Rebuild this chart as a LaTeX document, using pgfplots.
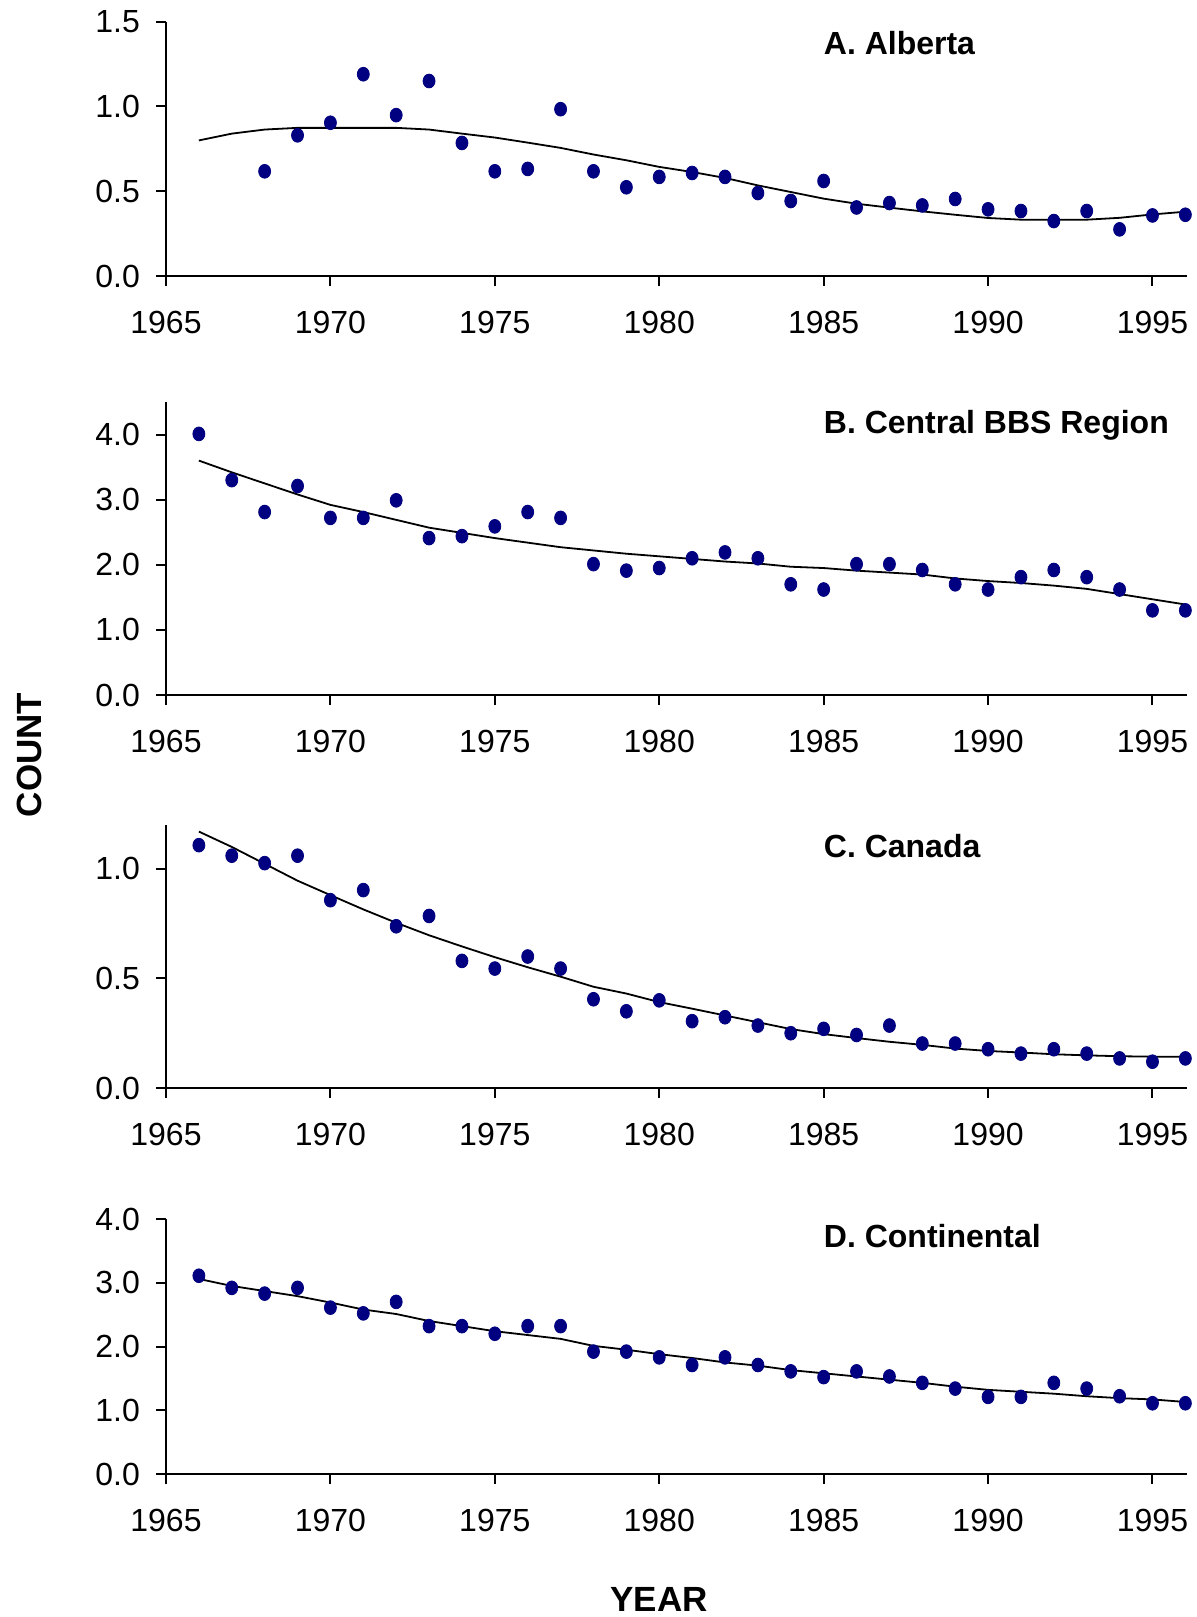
\documentclass[border=0pt]{standalone}
\usepackage{pgfplots}
\pgfplotsset{compat=1.18}
\usepackage{fontspec}
\setmainfont{Liberation Sans}
\definecolor{dotblue}{RGB}{0,0,128}

\pgfplotsset{
  panel/.style={
    scale only axis,
    width=510.5pt,
    xmin=1965, xmax=1996.05,
    ymin=0,
    axis x line*=bottom, axis y line*=left,
    axis line style={line width=1pt},
    tick align=outside,
    major tick length=5pt,
    tick style={line width=1pt, black},
    xtick={1965,1970,...,1995},
    clip=false,
    anchor=north west,
    /pgf/number format/assume math mode=true,
    xticklabel style={yshift=-9pt, /pgf/number format/1000 sep={}},
    yticklabel style={xshift=-4.5pt, /pgf/number format/.cd, fixed, fixed zerofill, precision=1},
    ticklabel style={font=\fontsize{16}{19}\selectfont},
  },
  dots/.style={only marks, mark=*, mark size=3pt, color=dotblue, mark options={yscale=1.15}},
  trend/.style={black, line width=0.9pt, mark=none},
}
\tikzset{ttl/.style={anchor=west, inner sep=0pt, font=\fontsize{16}{19}\selectfont\bfseries}}

\begin{document}
\begin{tikzpicture}
\path[use as bounding box] (0,0) rectangle (598.5pt,-808.5pt);

% A. Alberta
\begin{axis}[panel, at={(83pt,-10.8pt)}, height=127.3pt, ymax=1.5, ytick={0,0.5,1.0,1.5}]
\addplot[dots] coordinates {
 (1968,0.618) (1969,0.83) (1970,0.904) (1971,1.19) (1972,0.949) (1973,1.15)
 (1974,0.785) (1975,0.618) (1976,0.632) (1977,0.984) (1978,0.618) (1979,0.524)
 (1980,0.585) (1981,0.608) (1982,0.585) (1983,0.49) (1984,0.443) (1985,0.561)
 (1986,0.405) (1987,0.431) (1988,0.417) (1989,0.455) (1990,0.394) (1991,0.384)
 (1992,0.325) (1993,0.384) (1994,0.276) (1995,0.358) (1996,0.362)
};
\addplot[trend] coordinates {
 (1966,0.80) (1967,0.84) (1968,0.864) (1969,0.874) (1970,0.874) (1971,0.874)
 (1972,0.874) (1973,0.864) (1974,0.84) (1975,0.817) (1976,0.787) (1977,0.756)
 (1978,0.717) (1979,0.683) (1980,0.644) (1981,0.614) (1982,0.579) (1983,0.535)
 (1984,0.496) (1985,0.457) (1986,0.427) (1987,0.404) (1988,0.382) (1989,0.362)
 (1990,0.343) (1991,0.333) (1992,0.333) (1993,0.333) (1994,0.344) (1995,0.364)
 (1996,0.38)
};
\node[ttl] at (rel axis cs:0.644,0.916) {A. Alberta};
\end{axis}

% B. Central BBS Region
\begin{axis}[panel, at={(83pt,-201pt)}, height=146.5pt, ymax=4.5, ytick={0,1,2,3,4}]
\addplot[dots] coordinates {
 (1966,4.01) (1967,3.30) (1968,2.81) (1969,3.21) (1970,2.72) (1971,2.72)
 (1972,2.99) (1973,2.41) (1974,2.44) (1975,2.59) (1976,2.81) (1977,2.72)
 (1978,2.01) (1979,1.91) (1980,1.95) (1981,2.10) (1982,2.19) (1983,2.10)
 (1984,1.70) (1985,1.62) (1986,2.01) (1987,2.01) (1988,1.92) (1989,1.70)
 (1990,1.62) (1991,1.81) (1992,1.92) (1993,1.81) (1994,1.62) (1995,1.30)
 (1996,1.30)
};
\addplot[trend] coordinates {
 (1966,3.60) (1967,3.42) (1968,3.25) (1969,3.08) (1970,2.92) (1971,2.81)
 (1972,2.69) (1973,2.57) (1974,2.49) (1975,2.41) (1976,2.34) (1977,2.27)
 (1978,2.22) (1979,2.17) (1980,2.13) (1981,2.09) (1982,2.05) (1983,2.02)
 (1984,1.97) (1985,1.95) (1986,1.91) (1987,1.88) (1988,1.85) (1989,1.79)
 (1990,1.75) (1991,1.72) (1992,1.68) (1993,1.63) (1994,1.55) (1995,1.47)
 (1996,1.39)
};
\node[ttl] at (rel axis cs:0.644,0.92) {B. Central BBS Region};
\end{axis}

% C. Canada
\begin{axis}[panel, at={(83pt,-412.5pt)}, height=131.5pt, ymax=1.2, ytick={0,0.5,1.0}]
\addplot[dots] coordinates {
 (1966,1.108) (1967,1.06) (1968,1.026) (1969,1.06) (1970,0.857) (1971,0.903)
 (1972,0.738) (1973,0.785) (1974,0.58) (1975,0.545) (1976,0.60) (1977,0.545)
 (1978,0.405) (1979,0.35) (1980,0.40) (1981,0.305) (1982,0.323) (1983,0.285)
 (1984,0.25) (1985,0.27) (1986,0.242) (1987,0.285) (1988,0.203) (1989,0.203)
 (1990,0.177) (1991,0.157) (1992,0.177) (1993,0.157) (1994,0.135) (1995,0.12)
 (1996,0.135)
};
\addplot[trend] coordinates {
 (1966,1.17) (1967,1.10) (1968,1.023) (1969,0.946) (1970,0.88) (1971,0.815)
 (1972,0.754) (1973,0.697) (1974,0.646) (1975,0.597) (1976,0.551) (1977,0.508)
 (1978,0.462) (1979,0.431) (1980,0.392) (1981,0.362) (1982,0.331) (1983,0.30)
 (1984,0.269) (1985,0.246) (1986,0.228) (1987,0.211) (1988,0.197) (1989,0.18)
 (1990,0.169) (1991,0.162) (1992,0.154) (1993,0.149) (1994,0.145) (1995,0.143)
 (1996,0.143)
};
\node[ttl] at (rel axis cs:0.644,0.92) {C. Canada};
\end{axis}

% D. Continental
\begin{axis}[panel, at={(83pt,-609.5pt)}, height=127.5pt, ymax=4, ytick={0,1,2,3,4}]
\addplot[dots] coordinates {
 (1966,3.11) (1967,2.92) (1968,2.83) (1969,2.92) (1970,2.61) (1971,2.52)
 (1972,2.70) (1973,2.32) (1974,2.32) (1975,2.20) (1976,2.32) (1977,2.32)
 (1978,1.92) (1979,1.92) (1980,1.83) (1981,1.71) (1982,1.83) (1983,1.71)
 (1984,1.61) (1985,1.52) (1986,1.61) (1987,1.53) (1988,1.43) (1989,1.34)
 (1990,1.21) (1991,1.21) (1992,1.43) (1993,1.34) (1994,1.22) (1995,1.11)
 (1996,1.11)
};
\addplot[trend] coordinates {
 (1966,3.06) (1967,2.95) (1968,2.87) (1969,2.79) (1970,2.69) (1971,2.58)
 (1972,2.51) (1973,2.40) (1974,2.32) (1975,2.24) (1976,2.18) (1977,2.12)
 (1978,2.01) (1979,1.95) (1980,1.88) (1981,1.82) (1982,1.75) (1983,1.70)
 (1984,1.63) (1985,1.58) (1986,1.53) (1987,1.48) (1988,1.43) (1989,1.37)
 (1990,1.32) (1991,1.29) (1992,1.26) (1993,1.22) (1994,1.19) (1995,1.17)
 (1996,1.13)
};
\node[ttl] at (rel axis cs:0.644,0.933) {D. Continental};
\end{axis}

\node[rotate=90, font=\fontsize{17.5}{20}\selectfont\bfseries] at (14.5pt,-377.5pt) {COUNT};
\node[font=\fontsize{17.5}{20}\selectfont\bfseries] at (329.5pt,-799.5pt) {YEAR};
\end{tikzpicture}
\end{document}
